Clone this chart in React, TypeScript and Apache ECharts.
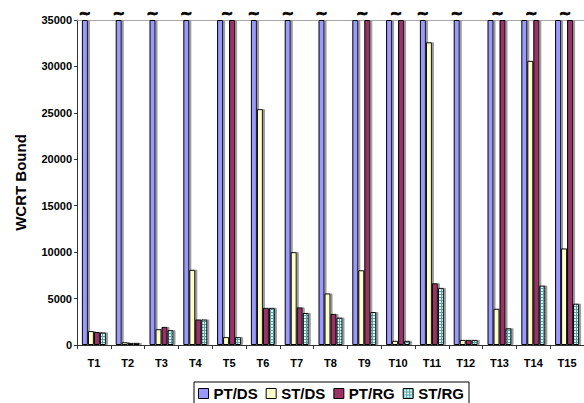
import React, { useEffect, useRef } from "react";
import * as echarts from "echarts";

// Task sets on the category axis
const categories = [
  "T1", "T2", "T3", "T4", "T5", "T6", "T7", "T8",
  "T9", "T10", "T11", "T12", "T13", "T14", "T15",
];

// Value axis ends here; bars that run past it are drawn up to it and marked with "~"
const AXIS_MAX = 35000;
const AXIS_STEP = 5000;
const OFF = AXIS_MAX;

const seriesNames = ["PT/DS", "ST/DS", "PT/RG", "ST/RG"];

const ptDs = [OFF, OFF, OFF, OFF, OFF, OFF, OFF, OFF, OFF, OFF, OFF, OFF, OFF, OFF, OFF];
const stDs = [1500, 300, 1700, 8100, 850, 25400, 10000, 5550, 8050, 450, 32600, 550, 3900, 30600, 10400];
const ptRg = [1400, 230, 1950, 2750, OFF, 4000, 4050, 3350, OFF, OFF, 6650, 550, OFF, OFF, OFF];
const stRg = [1350, 230, 1600, 2750, 850, 4000, 3450, 2950, 3550, 450, 6150, 550, 1800, 6400, 4450];

const FONT = "Liberation Sans, Arial, sans-serif";

// Small cyan grid tile used as the ST/RG fill
function gridPattern(): any {
  const c = document.createElement("canvas");
  c.width = 3;
  c.height = 3;
  const ctx = c.getContext("2d")!;
  ctx.fillStyle = "#d6ffff";
  ctx.fillRect(0, 0, 3, 3);
  ctx.fillStyle = "#5f9f9f";
  ctx.fillRect(0, 0, 3, 1);
  ctx.fillRect(0, 0, 1, 3);
  return { image: c.toDataURL(), repeat: "repeat", imageWidth: 3, imageHeight: 3 };
}

export default function App() {
  const ref = useRef<HTMLDivElement>(null);

  useEffect(() => {
    if (!ref.current) return;
    const chart = echarts.init(ref.current, null, { renderer: "svg" });

    const barStyle = (color: any) => ({
      color,
      borderColor: "#000",
      borderWidth: 1,
      shadowColor: "#9a9a9a",
      shadowOffsetX: 2,
      shadowOffsetY: 0,
      shadowBlur: 0,
    });

    const common = {
      type: "bar" as const,
      barWidth: 6,
      barGap: "0%",
      xAxisIndex: 0,
    };

    const option: any = {
      animation: false,
      textStyle: { fontFamily: FONT },
      grid: { left: 77, right: -3, top: 20, bottom: 58, containLabel: false },
      legend: {
        left: 194,
        top: 382,
        icon: "rect",
        itemWidth: 10,
        itemHeight: 10,
        itemGap: 8,
        padding: [4, 5, 4, 4],
        borderColor: "#000",
        borderWidth: 1,
        textStyle: { fontSize: 15, fontWeight: "bold", color: "#000", fontFamily: FONT },
        data: seriesNames.map((n) => ({
          name: n,
          itemStyle: { shadowColor: "transparent", borderWidth: 1, borderColor: "#000" },
        })),
      },
      xAxis: [
        {
          type: "category",
          data: categories,
          axisLine: { lineStyle: { color: "#333", width: 1 } },
          axisTick: { show: true, length: 4, lineStyle: { color: "#333" } },
          axisLabel: { fontSize: 11, fontWeight: "bold", color: "#000", margin: 12, fontFamily: FONT },
        },
        {
          type: "category",
          data: categories,
          position: "top",
          axisLine: { lineStyle: { color: "#a8a8a8", width: 1 } },
          axisTick: { show: false },
          axisLabel: { show: false },
        },
      ],
      yAxis: {
        type: "value",
        min: 0,
        max: AXIS_MAX,
        interval: AXIS_STEP,
        name: "WCRT Bound",
        nameLocation: "middle",
        nameGap: 49,
        nameTextStyle: { fontSize: 15, fontWeight: "bold", color: "#000", fontFamily: FONT },
        axisLine: { show: true, lineStyle: { color: "#333", width: 1 } },
        axisTick: { show: true, length: 3, lineStyle: { color: "#333" } },
        axisLabel: {
          fontSize: 11,
          fontWeight: "bold",
          color: "#000",
          margin: 5,
          fontFamily: FONT,
          formatter: (v: number) => String(v),
        },
        splitLine: { show: false },
      },
      series: [
        {
          ...common,
          name: "PT/DS",
          itemStyle: barStyle("#9999ff"),
          data: ptDs.map((v, i) => ({
            value: v,
            label: {
              show: v >= AXIS_MAX,
              offset: [ptRg[i] >= AXIS_MAX ? 7 : 0, 0],
            },
          })),
          label: {
            position: "top",
            distance: -1,
            formatter: "~",
            fontSize: 15,
            fontWeight: "bold",
            color: "#000",
            fontFamily: "DejaVu Sans",
            textBorderColor: "#000",
            textBorderWidth: 0.8,
          },
        },
        { ...common, name: "ST/DS", itemStyle: barStyle("#ffffcc"), data: stDs },
        { ...common, name: "PT/RG", itemStyle: barStyle("#993366"), data: ptRg },
        { ...common, name: "ST/RG", itemStyle: barStyle(gridPattern()), data: stRg },
      ],
    };

    chart.setOption(option);
    return () => chart.dispose();
  }, []);

  return (
    <div
      ref={ref}
      style={{ position: "fixed", left: 0, top: 0, width: 584, height: 403, background: "#fff" }}
    />
  );
}
